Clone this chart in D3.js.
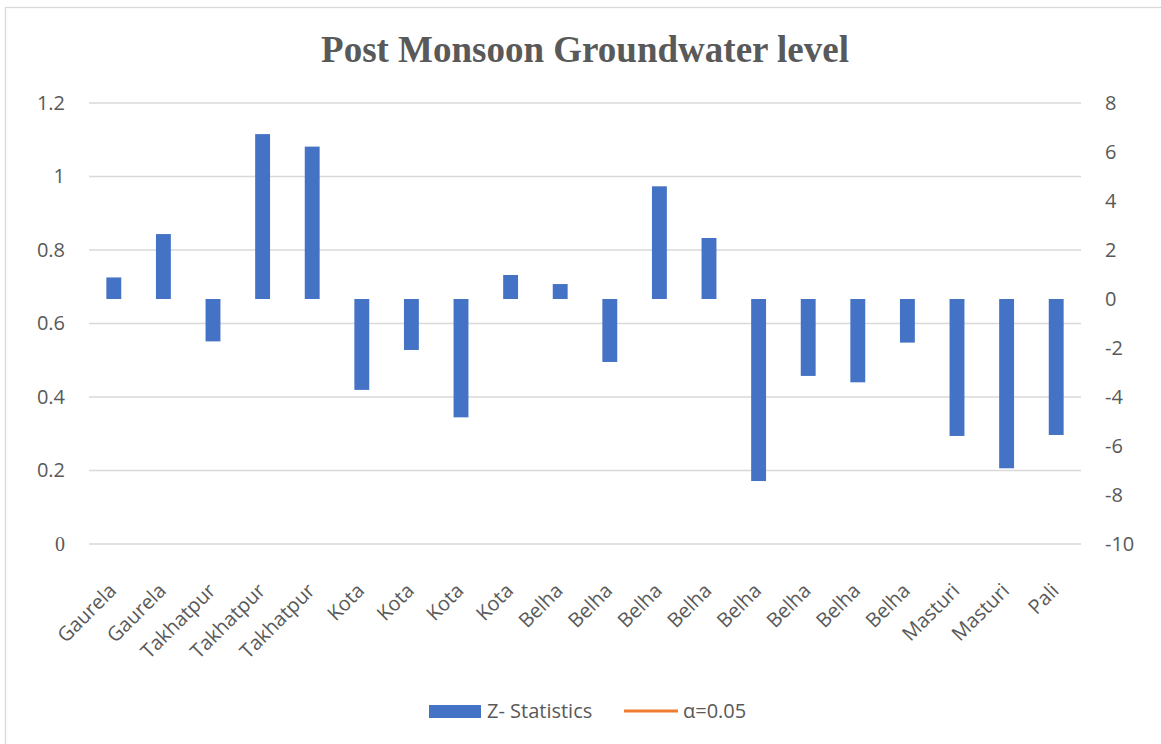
<!DOCTYPE html>
<html lang="en">
<head>
	<meta charset="UTF-8">
	<title>Post Monsoon Groundwater level</title>
	<script src="https://cdn.jsdelivr.net/npm/d3@7"></script>
	<style>
	*{margin:0; padding:0;}
	body{background:#fff;}
	text{fill:#595959; font-family:"Open Sans", sans-serif;}
	.grid line{stroke:#d9d9d9; stroke-width:1.3;}
	</style>
</head>
<body>
<script>
var categories = ["Gaurela", "Gaurela", "Takhatpur", "Takhatpur", "Takhatpur", "Kota", "Kota", "Kota", "Kota", "Belha",
	"Belha", "Belha", "Belha", "Belha", "Belha", "Belha", "Belha", "Masturi", "Masturi", "Pali"];
var zStatistics = [0.88, 2.65, -1.73, 6.73, 6.22, -3.71, -2.08, -4.83, 0.98, 0.61,
	-2.57, 4.6, 2.49, -7.43, -3.14, -3.4, -1.78, -5.59, -6.91, -5.55];
var leftTicks = [0, 0.2, 0.4, 0.6, 0.8, 1, 1.2];
var rightTicks = [-10, -8, -6, -4, -2, 0, 2, 4, 6, 8];
var seriesNames = ["Z- Statistics", "\u03b1=0.05"];

var width = 1161;
var height = 744;
var plotLeft = 89, plotRight = 1081, plotTop = 103, plotBottom = 544;

var svg = d3.select("body").append("svg")
	.attr("width", width)
	.attr("height", height);

// chart border
svg.append("rect")
	.attr("x", 5.5)
	.attr("y", 7.5)
	.attr("width", 1170)
	.attr("height", 760)
	.attr("fill", "none")
	.attr("stroke", "#d9d9d9")
	.attr("stroke-width", 1.3);

var x = d3.scaleBand()
	.domain(d3.range(categories.length))
	.range([plotLeft, plotRight])
	.paddingInner(0.7)
	.paddingOuter(0.35);
var yLeft = d3.scaleLinear().domain([0, 1.2]).range([plotBottom, plotTop]);
var yRight = d3.scaleLinear().domain([-10, 8]).range([plotBottom, plotTop]);

// gridlines from the left axis
var grid = svg.append("g").classed("grid", true);
grid.selectAll("line")
	.data(leftTicks)
	.enter()
	.append("line")
	.attr("x1", plotLeft)
	.attr("x2", plotRight)
	.attr("y1", function(d){ return yLeft(d); })
	.attr("y2", function(d){ return yLeft(d); });

var axisL = svg.append("g")
	.attr("transform", "translate(" + (plotLeft - 24) + ",0)")
	.call(d3.axisLeft(yLeft).tickValues(leftTicks).tickSize(0).tickPadding(0)
		.tickFormat(function(d){ return String(+d.toFixed(1)); }));
axisL.select(".domain").remove();
axisL.selectAll("text")
	.attr("font-size", 20)
	.style("font-family", function(d){ return d === 0 ? "'Liberation Serif', serif" : null; });

var axisR = svg.append("g")
	.attr("transform", "translate(" + (plotRight + 24) + ",0)")
	.call(d3.axisRight(yRight).tickValues(rightTicks).tickSize(0).tickPadding(0)
		.tickFormat(function(d){ return String(d); }));
axisR.select(".domain").remove();
axisR.selectAll("text").attr("font-size", 20);

// bars
svg.append("g")
	.selectAll("rect")
	.data(zStatistics)
	.enter()
	.append("rect")
	.attr("x", function(d, i){ return x(i); })
	.attr("width", x.bandwidth())
	.attr("y", function(d){ return yRight(Math.max(0, d)); })
	.attr("height", function(d){ return Math.abs(yRight(d) - yRight(0)); })
	.attr("fill", "#4472c4");

// category labels
svg.append("g")
	.selectAll("text")
	.data(categories)
	.enter()
	.append("text")
	.attr("transform", function(d, i){
		return "translate(" + (x(i) + x.bandwidth() / 2 - 6) + ",582) rotate(-45)";
	})
	.attr("text-anchor", "end")
	.attr("dy", "0.7em")
	.attr("font-size", 20)
	.text(function(d){ return d; });

// title
svg.append("text")
	.attr("x", 585)
	.attr("y", 62)
	.attr("text-anchor", "middle")
	.attr("font-size", 37)
	.attr("font-weight", "bold")
	.style("font-family", "'Liberation Serif', 'Times New Roman', serif")
	.text("Post Monsoon Groundwater level");

// legend
var legend = svg.append("g");
legend.append("rect")
	.attr("x", 429)
	.attr("y", 705)
	.attr("width", 52)
	.attr("height", 13)
	.attr("fill", "#4472c4");
legend.append("text")
	.attr("x", 487)
	.attr("y", 718)
	.attr("font-size", 20)
	.text(seriesNames[0]);
legend.append("line")
	.attr("x1", 624)
	.attr("x2", 678)
	.attr("y1", 711)
	.attr("y2", 711)
	.attr("stroke", "#ed7d31")
	.attr("stroke-width", 3);
legend.append("text")
	.attr("x", 683)
	.attr("y", 718)
	.attr("font-size", 20)
	.text(seriesNames[1]);
</script>
</body>
</html>
